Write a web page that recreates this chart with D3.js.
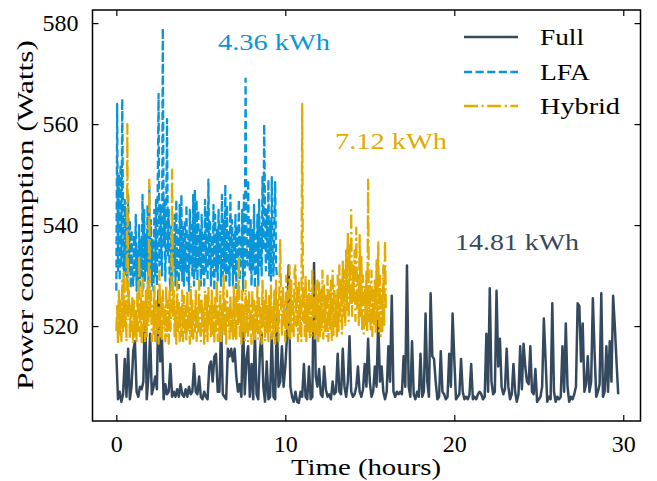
<!DOCTYPE html>
<html><head><meta charset="utf-8">
<script src="https://cdn.jsdelivr.net/npm/d3@7"></script>
<style>body{margin:0;background:#fff} text{font-family:"Liberation Serif","Times New Roman",serif}</style>
</head><body><svg id="c" width="657" height="481"></svg>
<script>
const fullStep = 0.1;
const fullValues = [
514.5,505.5,507,505,506.5,513.5,506,515.5,505.5,508,
515,517,507,506,508,507.5,509,524.5,505.5,510,
518.5,506.5,508,510,507.5,527,513,517.5,505.5,508.5,
506.5,507,512.5,506,507,506,507.5,506,508.5,506.5,
506,507.5,506,508,506.5,507,512.5,507,506.5,510,
506,505.5,507,506,505.5,512,513,509,514,514.5,
507,507,520.5,506.5,506,505.5,515.5,514,515.5,513,
515.5,510,507,508.5,506,521,506.5,513.5,516,506,
512.5,505.5,518.5,506.5,505.5,515,518.5,508,505,513,
505.5,506,518.5,506,505.5,522,508,509,516,508,
512,518,532,508,506,505,507,505,504.8,507,
506,512.5,506,505.5,512,505.5,506,532.5,510,508,
511.5,506.5,506,512,507.5,506,506.5,505.5,509,506.5,
507,514.5,507,506.5,515.5,508,506,509,518,507,
506,506.5,508,512,507,506,507.5,512.5,508,517.5,
509,506,507,512,508,521.5,509,512,507,505.5,
507,516,509,526,507,506,507,506.5,507,506.5,
514,508,532,508,506,517,506.5,505.5,507,506,
514.5,506,507,522.5,509,506,526.5,514,513.5,509,
505.5,506,515,507,506.5,505.5,506,514.5,508,522.5,
513.5,505.5,506,506.5,513.5,507,505.5,506,505.5,506.5,
512.5,505.5,506,505.5,506.5,507,506.5,505.5,506,518.5,
507,527.5,509,506.5,507,527,512,517.5,508,506.5,
507.5,515.5,508,505.5,506.5,512.5,507,505,506.5,516,
507.5,516.5,512,509,508.5,516,507,506.5,511.5,505,
505.5,506,508,521.5,513.5,505,506,505.5,524.5,507,
505,506,505.5,506,516,507,520.5,508,505,506,
505.5,506.5,508,524.5,524,513,520.5,507,508.5,514,
507,509,525.5,515,506,507,508.5,526.5,506,507,
516,507,517,509,526,520,513,506.5
];
const denseStep = 0.05;
const lfaValues = [
527,564,531,550,529,552,532,565,536,528,545,530,543,528,546,531,541,527.5,539,530,
528,538,530,542,527,535,529,540,528,537,530,546,527.5,543,529,538,531,544,528,547.5,
529,541,528,537,527,543,530,545,528,548,566,532,544,537,530,579,536,545,529,541,
561,534,543,530,527,540,529,538,532,542,528,545,530,539,527.5,544,531,546,529,540,
528,541,531,544,529,538,527,543,532,540,530,546,528,547,531,545,529,543,532,539,
528,542,530,538,527.5,545,531,543,529,549,532,541,528,538,530,544,527,542,531,539,
529,543,532,540,528,546,530,541,531,548,529,544,530,539,528,546,532,541,528,538,
530,542,527.5,540,531,545,529,538,532,543,527,546,530,569,538,532,549,535,531,541,
528,539,531,544,527.5,538,530,542,528,545,532,540,530,549.5,535,560,542,531,543,533,
549,530,541,529,549.5,534,530,540,548.5,532,530
];
const hybridValues = [
519,524,516.5,527,518,525,517,529,519,531,520,525,517,560,522,527,517.5,524,519,526,
516.5,525,518,523,517,527,519,534,518,526,516.5,530,519,525,517,527,518,529,520,549,
522,527,517,524,518.5,528,517,525,519,524,516.5,531,518,526,517,527,519.5,524,517,528,
518,525,516.5,527,519,523,551,522,527,518,524,516.5,529,519,525,517,524,518,527,517,
526,518.5,524,517,527,519,524,516.5,528,518,525,517.5,523,519,527,517,524,518.5,529,520,
517,525,519,524,516.5,527,518,526,517,528,520,524,517.5,527,518,524,516.5,526,519,529,
517,524,518.5,527,517,524,519,530,518,525,516.5,527,520,524,517.5,526,519,523,517,528,
518,526,517,527,520,534,518,524,516.5,527,519,524,517,529,518.5,525,517,527,519,524,
516.5,527,518,525,517,524,519,528,517.5,526,518,524,516.5,529,520,525,517,527,518.5,524,
517,526,519,528,517.5,524,518,527,516.5,529,519,525,517,527,537,524,518,528,520,525,
517,530,519,527,518,532,517.5,529,519,526,518,531,532,520,528,517,529,518.5,526,517,
564,521,528,518,530,517,526,519,529,517.5,527,518,531,519,526,517,528,518.5,529,517,
529,518,527,519,531,517.5,528,519,526,518,530,517,527,519.5,529,517,531,518,528,520,
526,518,530,519,532,521,529,518.5,533,522,531,520,535,523,538.5,521,536,524,543,522,
532,525,535,521,539.5,523,530,520,538,522,534,519,530,518.5,528,520,531,519,549,521,
528,519,531,518,527,520,529,518.5,533,521,536.5,519,530,518,527,519,532,520,537,523
];
const seriesNames = ["Full", "LFA", "Hybrid"];
const energyLabels = ["14.81 kWh", "4.36 kWh", "7.12 kWh"];
const xTicks = [0, 10, 20, 30];
const yTicks = [520, 540, 560, 580];

const colors = {Full: "#34495e", LFA: "#0a95d9", Hybrid: "#e3aa00"};
const dashes = {Full: null, LFA: "8.1,3.5", Hybrid: "14,3.5,2.2,3.5"};
const widths = {Full: 2.5, LFA: 2.3, Hybrid: 2.3};

const svg = d3.select("#c");
const x = d3.scaleLinear().domain([-1.41, 31.02]).range([92.5, 640.5]);
const y = d3.scaleLinear().domain([501.2, 582.6]).range([421, 10]);

const toPts = (arr, step) => arr.map((v, i) => ({t: +(i * step).toFixed(3), v}));
const data = {
  Full: toPts(fullValues, fullStep),
  LFA: toPts(lfaValues, denseStep),
  Hybrid: toPts(hybridValues, denseStep)
};

const line = d3.line().x(d => x(d.t)).y(d => y(d.v));
svg.append("defs").append("clipPath").attr("id", "clip")
  .append("rect").attr("x", 92.5).attr("y", 10).attr("width", 548).attr("height", 411);

const g = svg.append("g").attr("clip-path", "url(#clip)");
seriesNames.forEach(n => {
  g.append("path").datum(data[n]).attr("d", line)
    .attr("fill", "none").attr("stroke", colors[n]).attr("stroke-width", widths[n])
    .attr("stroke-linejoin", "round")
    .attr("stroke-dasharray", dashes[n]);
});

// axes (ticks inward on all sides)
const tickLen = 6;
const axB = d3.axisBottom(x).tickValues(xTicks).tickSize(-tickLen).tickPadding(tickLen + 8).tickFormat(d3.format("d"));
const axT = d3.axisTop(x).tickValues(xTicks).tickSize(-tickLen).tickFormat("");
const axL = d3.axisLeft(y).tickValues(yTicks).tickSize(-tickLen).tickPadding(tickLen + 8).tickFormat(d3.format("d"));
const axR = d3.axisRight(y).tickValues(yTicks).tickSize(-tickLen).tickFormat("");

function styleAxis(sel) {
  sel.select(".domain").remove();
  sel.selectAll(".tick line").attr("stroke", "#000").attr("stroke-width", 1.2);
  sel.selectAll("text").attr("font-size", 24).attr("fill", "#000");
}
svg.append("g").attr("transform", "translate(0,421)").call(axB).call(styleAxis);
svg.append("g").attr("transform", "translate(0,10)").call(axT).call(styleAxis);
svg.append("g").attr("transform", "translate(92.5,0)").call(axL).call(styleAxis);
svg.append("g").attr("transform", "translate(640.5,0)").call(axR).call(styleAxis);

svg.append("rect").attr("x", 92.5).attr("y", 10).attr("width", 548).attr("height", 411)
  .attr("fill", "none").attr("stroke", "#000").attr("stroke-width", 1.5);

// axis labels
svg.append("text").attr("x", 366).attr("y", 475).attr("text-anchor", "middle")
  .attr("font-size", 24).attr("textLength", 150).attr("lengthAdjust", "spacingAndGlyphs").text("Time (hours)");
svg.append("text").attr("transform", "translate(33,215) rotate(-90)").attr("text-anchor", "middle")
  .attr("font-size", 24).attr("textLength", 350).attr("lengthAdjust", "spacingAndGlyphs").text("Power consumption (Watts)");

// energy annotations
const annot = [
  {name: "LFA", label: energyLabels[1], x: 274, y: 50, w: 112},
  {name: "Hybrid", label: energyLabels[2], x: 391, y: 149, w: 112},
  {name: "Full", label: energyLabels[0], x: 517, y: 250, w: 124}
];
annot.forEach(a => {
  svg.append("text").attr("x", a.x).attr("y", a.y).attr("text-anchor", "middle")
    .attr("font-size", 24).attr("fill", colors[a.name])
    .attr("textLength", a.w).attr("lengthAdjust", "spacingAndGlyphs").text(a.label);
});

// legend
const legY = [37, 72, 106];
const legW = [44, 50, 80];
seriesNames.forEach((n, i) => {
  svg.append("line").attr("x1", 464).attr("x2", 518).attr("y1", legY[i]).attr("y2", legY[i])
    .attr("stroke", colors[n]).attr("stroke-width", widths[n]).attr("stroke-dasharray", dashes[n]);
  svg.append("text").attr("x", 540).attr("y", legY[i] + 8).attr("font-size", 24)
    .attr("textLength", legW[i]).attr("lengthAdjust", "spacingAndGlyphs").text(n);
});
</script></body></html>
